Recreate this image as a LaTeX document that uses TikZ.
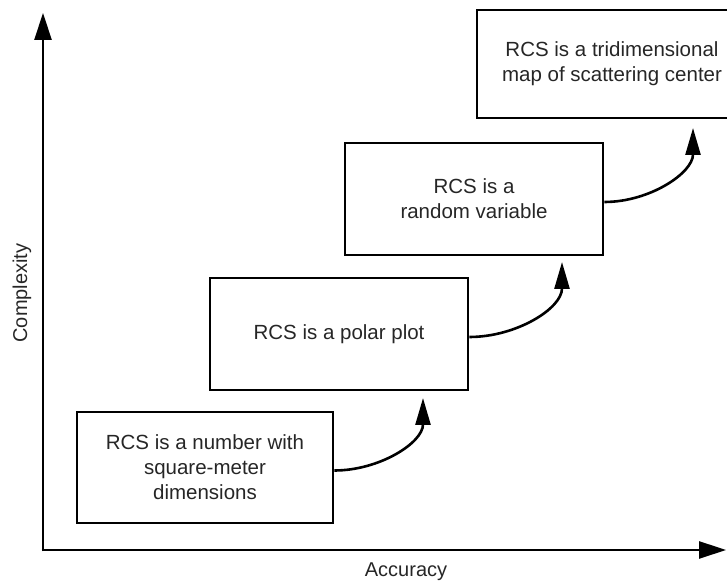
\documentclass[tikz,border=0pt]{standalone}
\usepackage{fontspec}
\setmainfont{Liberation Sans}
\usetikzlibrary{arrows.meta}
\begin{document}
\begin{tikzpicture}[x=1pt,y=1pt,
  stagebox/.style={draw=black, line width=2.9pt, minimum width=256pt, minimum height=110pt, inner sep=0pt, align=center, text=black!85, font=\fontsize{20.5}{25}\selectfont},
  axisline/.style={line width=2.8pt, -{Triangle[length=27pt,width=17pt]}},
  stepcurve/.style={line width=2.6pt, -{Triangle[length=27pt,width=15pt]}},
  axislabel/.style={text=black!85, font=\fontsize{20}{24}\selectfont, inner sep=0pt}]
\useasboundingbox (0,0) rectangle (727,585);
\clip (0,0) rectangle (727,585);
% axes
\coordinate (o) at (43,35);
\coordinate (ytip) at (43,572);
\coordinate (xtip) at (726,35);
\draw[axisline] ([yshift=-1.4pt]o) -- (ytip);
\draw[axisline] ([xshift=-1.4pt]o) -- (xtip);
\node[axislabel, rotate=90] (cy) at (22,292) {Complexity};
\node[axislabel] (ac) at (406,13) {Accuracy};
% boxes
\node[stagebox, minimum width=256pt, minimum height=111pt] (b1) at (205,117.5) {RCS is a number with\\square-meter\\dimensions};
\node[stagebox, minimum width=258pt, minimum height=112pt] (b2) at (339,251) {RCS is a polar plot};
\node[stagebox, minimum width=258pt, minimum height=112pt] (b3) at (474,386) {RCS is a\\random variable};
\node[stagebox, minimum width=270pt, minimum height=108pt] (b4) at (612,521) {RCS is a tridimensional\\map of scattering center};
% connectors
\coordinate (t1) at (423,187);
\coordinate (t2) at (562,323);
\coordinate (t3) at (693,457);
\draw[stepcurve] ([yshift=-3pt]b1.east) to[out=0,in=-90] (t1);
\draw[stepcurve] ([yshift=-3pt]b2.east) to[out=0,in=-90] (t2);
\draw[stepcurve] ([yshift=-3pt]b3.east) to[out=0,in=-90] (t3);
\end{tikzpicture}
\end{document}
